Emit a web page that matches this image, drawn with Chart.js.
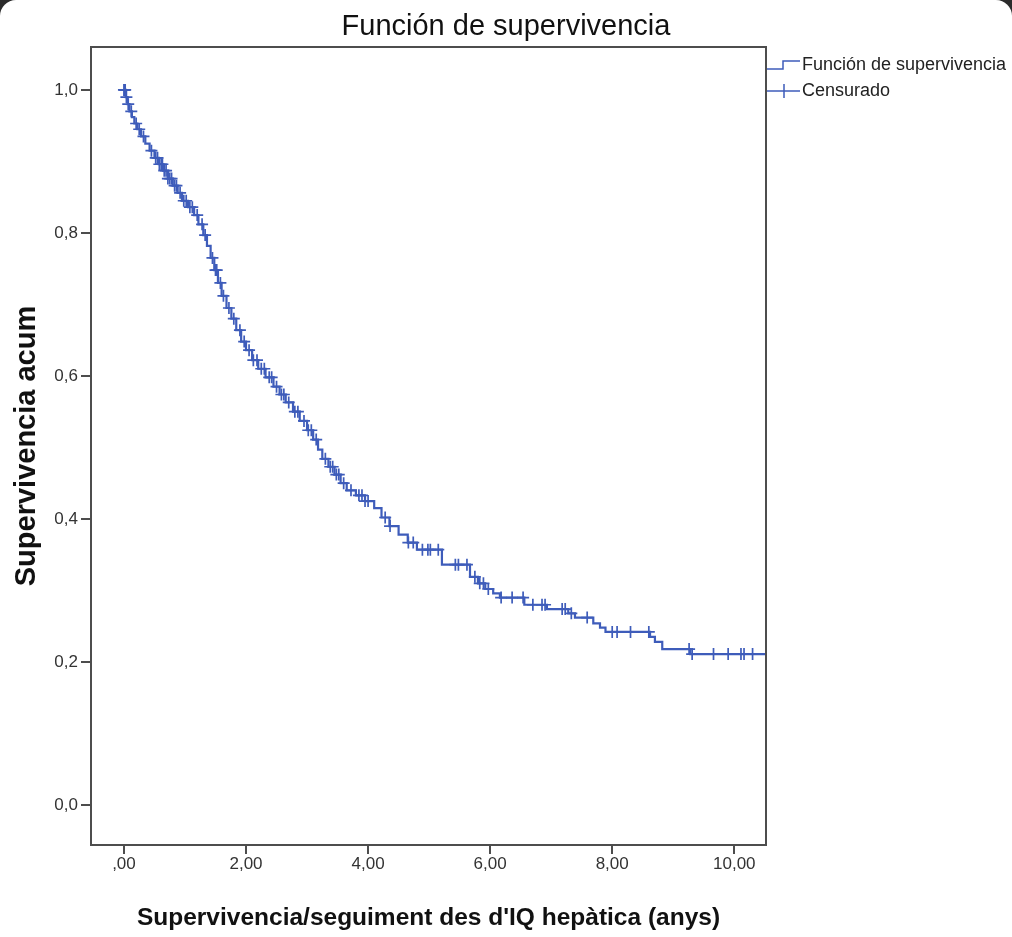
<!DOCTYPE html>
<html>
<head>
<meta charset="utf-8">
<title>Función de supervivencia</title>
<script src="https://cdn.jsdelivr.net/npm/chart.js@4/dist/chart.umd.min.js"></script>
<style>
    html, body { margin: 0; padding: 0; background: #2b2b2b; }
    #wrap { width: 1012px; height: 937px; background: #fff; border-radius: 16px 16px 0 0; overflow: hidden; }
    canvas { display: block; }
</style>
</head>
<body>
<div id="wrap"><canvas id="grafico" width="1012" height="937"></canvas></div>
<script>
// Kaplan-Meier: momentos de evento (anys) y supervivencia acumulada tras cada evento
const tiemposEvento = [0, 0.03, 0.06, 0.09, 0.13, 0.17, 0.22, 0.28, 0.35, 0.42, 0.50, 0.57, 0.64, 0.72, 0.80, 0.88, 0.95,
    1.05, 1.15, 1.22, 1.30, 1.36, 1.42, 1.48, 1.54, 1.60, 1.68, 1.76, 1.84, 1.92, 2.00, 2.10, 2.20, 2.32, 2.45, 2.55,
    2.65, 2.77, 2.88, 3.00, 3.10, 3.18, 3.25, 3.35, 3.45, 3.55, 3.65, 3.80, 3.95, 4.10, 4.22, 4.35, 4.50, 4.65, 4.80,
    5.21, 5.67, 5.80, 5.92, 6.05, 6.16, 6.56, 6.93, 7.28, 7.39, 7.69, 7.80, 7.89, 8.62, 8.70, 8.82, 9.28, 10.52];
const supervivencia = [1.0, 0.99, 0.98, 0.97, 0.962, 0.953, 0.945, 0.935, 0.925, 0.915, 0.905, 0.896, 0.887, 0.876, 0.866, 0.856, 0.845,
    0.836, 0.825, 0.812, 0.797, 0.782, 0.765, 0.748, 0.730, 0.712, 0.695, 0.680, 0.664, 0.648, 0.636, 0.622, 0.610, 0.598, 0.585, 0.574,
    0.563, 0.550, 0.537, 0.524, 0.511, 0.497, 0.484, 0.473, 0.462, 0.450, 0.440, 0.433, 0.425, 0.415, 0.402, 0.390, 0.378, 0.367, 0.357,
    0.336, 0.319, 0.310, 0.302, 0.296, 0.290, 0.280, 0.274, 0.268, 0.262, 0.254, 0.248, 0.242, 0.235, 0.228, 0.218, 0.211, 0.211];

// casos censurados (anys)
const tiemposCensura = [0.0, 0.01, 0.02, 0.04, 0.07, 0.12, 0.20, 0.25, 0.32, 0.45, 0.52, 0.55, 0.58, 0.61, 0.63, 0.66, 0.69,
    0.72, 0.75, 0.78, 0.83, 0.86, 0.92, 0.98, 1.02, 1.08, 1.12, 1.20, 1.28, 1.33, 1.45, 1.50, 1.52, 1.58, 1.63, 1.72, 1.80,
    1.90, 1.97, 2.05, 2.12, 2.18, 2.25, 2.30, 2.38, 2.42, 2.50, 2.58, 2.62, 2.70, 2.80, 2.85, 2.95, 3.02, 3.07, 3.15, 3.30,
    3.38, 3.42, 3.48, 3.52, 3.60, 3.72, 3.85, 3.90, 3.95, 4.00, 4.28, 4.36, 4.66, 4.74, 4.89, 4.98, 5.02, 5.15, 5.43, 5.48,
    5.62, 5.75, 5.83, 5.89, 5.97, 6.18, 6.36, 6.54, 6.70, 6.85, 6.90, 7.18, 7.23, 7.33, 7.59, 8.00, 8.08, 8.30, 8.60,
    9.26, 9.31, 9.66, 9.90, 10.11, 10.16, 10.30];

const ticksX = [0, 2, 4, 6, 8, 10];
const etiquetasX = [',00', '2,00', '4,00', '6,00', '8,00', '10,00'];
const ticksY = [0, 0.2, 0.4, 0.6, 0.8, 1.0];
const etiquetasY = ['0,0', '0,2', '0,4', '0,6', '0,8', '1,0'];

const titulo = 'Función de supervivencia';
const AZUL = '#3e5cba';
const GRIS = '#4d4d4d';
const FUENTE = '"Liberation Sans", Arial, sans-serif';

// valor de la curva en el tiempo t (último escalón alcanzado)
function supervivenciaEn(t) {
    let s = supervivencia[0];
    for (let i = 0; i < tiemposEvento.length; i++) {
        if (tiemposEvento[i] <= t) s = supervivencia[i];
    }
    return s;
}

const puntosCurva = tiemposEvento.map((t, i) => ({ x: t, y: supervivencia[i] }));
const puntosCensura = tiemposCensura.map(t => ({ x: t, y: supervivenciaEn(t) }));

// marco, título centrado en la imagen y leyenda al estilo SPSS
const marcoYLeyenda = {
    id: 'marcoYLeyenda',
    afterDraw(chart) {
        const { ctx, chartArea } = chart;
        ctx.save();
        ctx.strokeStyle = GRIS;
        ctx.lineWidth = 2;
        ctx.strokeRect(chartArea.left, chartArea.top, chartArea.right - chartArea.left, chartArea.bottom - chartArea.top);

        ctx.fillStyle = '#111';
        ctx.font = '29px ' + FUENTE;
        ctx.textAlign = 'center';
        ctx.textBaseline = 'middle';
        ctx.fillText(titulo, chart.width / 2, 27);

        const x0 = chartArea.right + 1;
        const y1 = 65, y2 = 91;
        ctx.strokeStyle = AZUL;
        ctx.lineWidth = 1.5;
        ctx.beginPath();
        ctx.moveTo(x0, y1 + 4);
        ctx.lineTo(x0 + 16, y1 + 4);
        ctx.lineTo(x0 + 16, y1 - 4);
        ctx.lineTo(x0 + 33, y1 - 4);
        ctx.stroke();
        ctx.beginPath();
        ctx.moveTo(x0, y2);
        ctx.lineTo(x0 + 33, y2);
        ctx.moveTo(x0 + 17, y2 - 7);
        ctx.lineTo(x0 + 17, y2 + 7);
        ctx.stroke();

        ctx.fillStyle = '#222';
        ctx.font = '18px ' + FUENTE;
        ctx.textAlign = 'left';
        ctx.fillText(chart.data.datasets[0].label, x0 + 35, y1);
        ctx.fillText(chart.data.datasets[1].label, x0 + 35, y2);
        ctx.restore();
    }
};

const config = {
    type: 'scatter',
    data: {
        datasets: [{
            label: 'Función de supervivencia',
            data: puntosCurva,
            showLine: true,
            stepped: 'before',
            borderColor: AZUL,
            borderWidth: 2.2,
            pointRadius: 0,
            fill: false
        }, {
            label: 'Censurado',
            data: puntosCensura,
            showLine: false,
            pointStyle: 'cross',
            pointRadius: 6,
            pointBorderWidth: 1.7,
            borderColor: AZUL,
            backgroundColor: AZUL
        }]
    },
    options: {
        responsive: false,
        animation: false,
        devicePixelRatio: 1,
        layout: { padding: { left: 0, right: 246, top: 47, bottom: 0 } },
        plugins: {
            legend: { display: false },
            tooltip: { enabled: false },
            title: { display: false }
        },
        scales: {
            x: {
                type: 'linear',
                min: -0.54,
                max: 10.52,
                afterFit: s => { s.height = 92; },
                afterBuildTicks: s => { s.ticks = ticksX.map(v => ({ value: v })); },
                ticks: {
                    color: '#333',
                    font: { family: FUENTE, size: 17 },
                    padding: 0,
                    callback: (v) => etiquetasX[ticksX.indexOf(v)]
                },
                grid: { drawOnChartArea: false, drawTicks: true, tickLength: 9, color: GRIS, lineWidth: 2 },
                border: { display: false },
                title: {
                    display: true,
                    text: "Supervivencia/seguiment des d'IQ hepàtica (anys)",
                    color: '#111',
                    font: { family: FUENTE, size: 24.5, weight: 'bold' },
                    padding: { top: 0, bottom: 4 }
                }
            },
            y: {
                type: 'linear',
                min: -0.056,
                max: 1.06,
                afterFit: s => { s.width = 91; },
                afterBuildTicks: s => { s.ticks = ticksY.map(v => ({ value: v })); },
                ticks: {
                    color: '#333',
                    font: { family: FUENTE, size: 17 },
                    padding: 3,
                    callback: (v) => etiquetasY[ticksY.indexOf(v)]
                },
                grid: { drawOnChartArea: false, drawTicks: true, tickLength: 10, color: GRIS, lineWidth: 2 },
                border: { display: false },
                title: {
                    display: true,
                    text: 'Supervivencia acum',
                    color: '#111',
                    font: { family: FUENTE, size: 29, weight: 'bold' },
                    padding: { top: 10, bottom: 0 }
                }
            }
        }
    },
    plugins: [marcoYLeyenda]
};

const ctx = document.getElementById('grafico').getContext('2d');
new Chart(ctx, config);
</script>
</body>
</html>
